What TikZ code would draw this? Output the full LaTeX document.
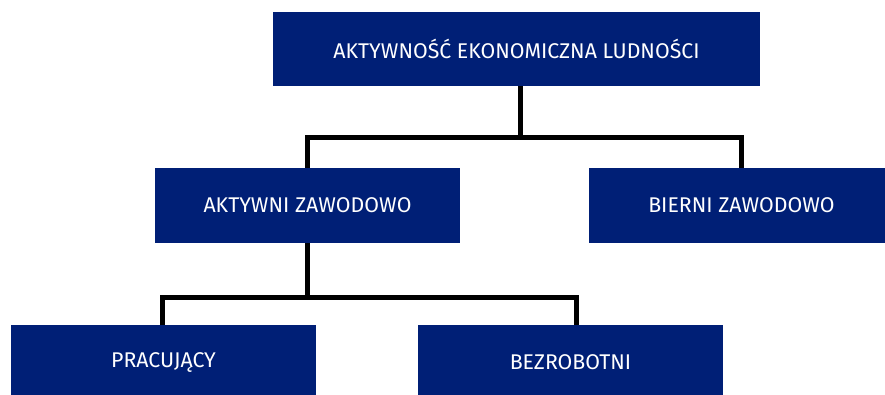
\documentclass[tikz,border=0pt]{standalone}
\usepackage{fontspec}
\setmainfont{Fira Sans}
\usetikzlibrary{positioning}
\definecolor{navy}{RGB}{0,31,118}
\tikzstyle{box}=[rectangle,fill=navy,text=white,minimum width=305pt,minimum height=75pt,inner sep=0pt,font=\fontsize{21.3}{24}\selectfont]
\tikzstyle{link} = [draw,line width=5pt,black]

\begin{document}
\begin{tikzpicture}[x=1pt,y=-1pt]
    \useasboundingbox (0,0) rectangle (885,394);
    \clip (0,0) rectangle (885,394);
    % Top of the tree
    \node[box,minimum width=487pt,minimum height=74pt] (ludnosc) at (516.5,49) {AKTYWNOŚĆ EKONOMICZNA LUDNOŚCI};

    % Second and third level
    \foreach \pos/\name/\label in {{(307.5,205.5)/aktywni/AKTYWNI ZAWODOWO}, {(741.5,205.5)/bierni/BIERNI ZAWODOWO},
                                   {(163.5,362.5)/pracujacy/PRACUJĄCY}, {(570.5,362.5)/bezrobotni/BEZROBOTNI}}
        \node[box] (\name) at \pos {\label};

    % Connect the levels
    \path[link] ([xshift=3.5pt]ludnosc.south) -- ++(0,51) -| (aktywni.north);
    \path[link] ([xshift=3.5pt]ludnosc.south) -- ++(0,51) -| (bierni.north);
    \path[link] (aktywni.south) -- ++(0,54) -| ([xshift=-1.5pt]pracujacy.north);
    \path[link] (aktywni.south) -- ++(0,54) -| ([xshift=6pt]bezrobotni.north);
\end{tikzpicture}
\end{document}
